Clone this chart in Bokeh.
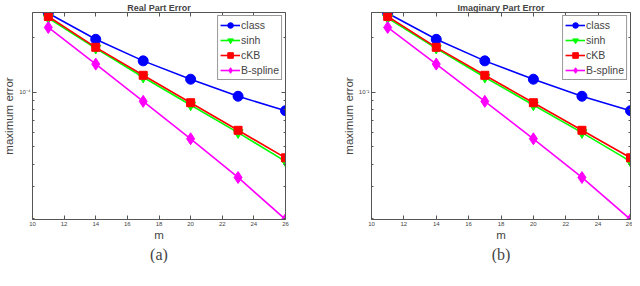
from bokeh.plotting import figure
from bokeh.layouts import row
from bokeh.models import (LinearAxis, LogAxis, Title, CustomJSTickFormatter, Range1d,
                          FixedTicker, Legend)
from bokeh.embed import file_html
from bokeh.resources import INLINE

m = [11, 14, 17, 20, 23, 26]
real_class = [2.73e-4, 1.96e-4, 1.49e-4, 1.18e-4, 9.5e-5, 7.9e-5]
real_sinh = [2.57e-4, 1.75e-4, 1.21e-4, 8.5e-5, 5.98e-5, 4.15e-5]
real_ckb = [2.62e-4, 1.77e-4, 1.24e-4, 8.75e-5, 6.16e-5, 4.34e-5]
real_bspline = [2.28e-4, 1.43e-4, 8.9e-5, 5.53e-5, 3.38e-5, 1.98e-5]

imag_class = [2.73e-1, 1.96e-1, 1.49e-1, 1.18e-1, 9.5e-2, 7.9e-2]
imag_sinh = [2.57e-1, 1.75e-1, 1.21e-1, 8.5e-2, 5.98e-2, 4.15e-2]
imag_ckb = [2.62e-1, 1.77e-1, 1.24e-1, 8.75e-2, 6.16e-2, 4.34e-2]
imag_bspline = [2.28e-1, 1.43e-1, 8.9e-2, 5.53e-2, 3.38e-2, 1.98e-2]

x_ticks = [10, 12, 14, 16, 18, 20, 22, 24, 26]
real_major = [1e-4]
real_minor = [2e-5, 3e-5, 4e-5, 5e-5, 6e-5, 7e-5, 8e-5, 9e-5, 2e-4, 3e-4]
imag_major = [1e-1]
imag_minor = [2e-2, 3e-2, 4e-2, 5e-2, 6e-2, 7e-2, 8e-2, 9e-2, 2e-1, 3e-1]

FONT = "Liberation Sans"
AX = "#555555"

sup_js = """
const sup = {'-':'\u207b','0':'\u2070','1':'\u00b9','2':'\u00b2','3':'\u00b3','4':'\u2074','5':'\u2075','6':'\u2076','7':'\u2077','8':'\u2078','9':'\u2079'};
const e = Math.round(Math.log10(tick));
return '10' + String(e).split('').map(c => sup[c]).join('');
"""
blank_js = "return '';"


def make_panel(title, tag, series, major, minor, width, bl, br):
    ys = [v for s in series for v in s[1]]
    p = figure(width=width, height=263, y_axis_type="log", output_backend="svg",
               toolbar_location=None, x_range=Range1d(10, 26),
               y_range=Range1d(min(ys), max(ys) * 1.01),
               min_border_left=bl, min_border_right=br, min_border_top=0,
               min_border_bottom=10)
    p.title.text = title
    p.title.text_font = FONT
    p.title.text_font_size = "9px"
    p.title.text_font_style = "bold"
    p.title.align = "center"
    p.title.standoff = 0
    p.title.offset = 0
    p.add_layout(Title(text=tag, align="center", text_font="Liberation Serif",
                       text_font_size="16px", text_font_style="normal", standoff=1), "below")
    p.grid.visible = False
    p.outline_line_color = None

    yt = FixedTicker(ticks=major, minor_ticks=minor)
    xt = FixedTicker(ticks=x_ticks)
    xa = p.xaxis[0]
    xa.ticker = xt
    xa.axis_label = "m"
    ya = p.yaxis[0]
    ya.ticker = yt
    ya.axis_label = "maximum error"
    ya.formatter = CustomJSTickFormatter(code=sup_js)
    for a in (xa, ya):
        a.axis_label_text_font = FONT
        a.axis_label_text_font_size = "11.5px"
        a.axis_label_text_font_style = "normal"
        a.axis_label_standoff = 1
        a.major_label_text_font = FONT
        a.major_label_text_font_size = "6px"
        a.major_label_standoff = 2
        a.major_tick_in = 4
        a.major_tick_out = 0
        a.minor_tick_in = 2
        a.minor_tick_out = 0
        a.axis_line_color = AX
        a.major_tick_line_color = AX
        a.minor_tick_line_color = AX
    xa.axis_label_standoff = 0

    top = LinearAxis(ticker=xt, formatter=CustomJSTickFormatter(code=blank_js),
                     major_label_standoff=0, axis_label_standoff=0,
                     major_tick_in=4, major_tick_out=0,
                     axis_line_color=AX, major_tick_line_color=AX)
    right = LogAxis(ticker=yt, formatter=CustomJSTickFormatter(code=blank_js),
                    major_label_standoff=0, axis_label_standoff=0,
                    major_tick_in=4, major_tick_out=0,
                    minor_tick_in=2, minor_tick_out=0, axis_line_color=AX,
                    major_tick_line_color=AX, minor_tick_line_color=AX)
    p.add_layout(top, "above")
    p.add_layout(right, "right")

    items = []
    for name, vals, color, marker, size in series:
        l = p.line(m, vals, line_color=color, line_width=1.6)
        s = p.scatter(m, vals, marker=marker, size=size, fill_color=color, line_color=color)
        items.append((name, [l, s]))
    leg = Legend(items=items, location="top_right", label_text_font=FONT,
                 label_text_font_size="10.5px", glyph_width=20, glyph_height=14,
                 label_height=14, label_standoff=1, spacing=1, padding=2, margin=3,
                 border_line_color="#333333", border_line_width=1,
                 background_fill_alpha=1)
    p.add_layout(leg, "center")
    return p


real_series = [
    ("class", real_class, "#0000ff", "circle", 10),
    ("sinh", real_sinh, "#00ff00", "inverted_triangle", 10),
    ("cKB", real_ckb, "#ff0000", "square", 8),
    ("B-spline", real_bspline, "#ff00ff", "diamond", 12),
]
imag_series = [
    ("class", imag_class, "#0000ff", "circle", 10),
    ("sinh", imag_sinh, "#00ff00", "inverted_triangle", 10),
    ("cKB", imag_ckb, "#ff0000", "square", 8),
    ("B-spline", imag_bspline, "#ff00ff", "diamond", 12),
]

pa = make_panel("Real Part Error", "(a)", real_series, real_major, real_minor, 330, 20, 45)
pb = make_panel("Imaginary Part Error", "(b)", imag_series, imag_major, imag_minor, 302, 41, 2)

layout = row(pa, pb)
open("out.html", "w").write(file_html(layout, INLINE))
